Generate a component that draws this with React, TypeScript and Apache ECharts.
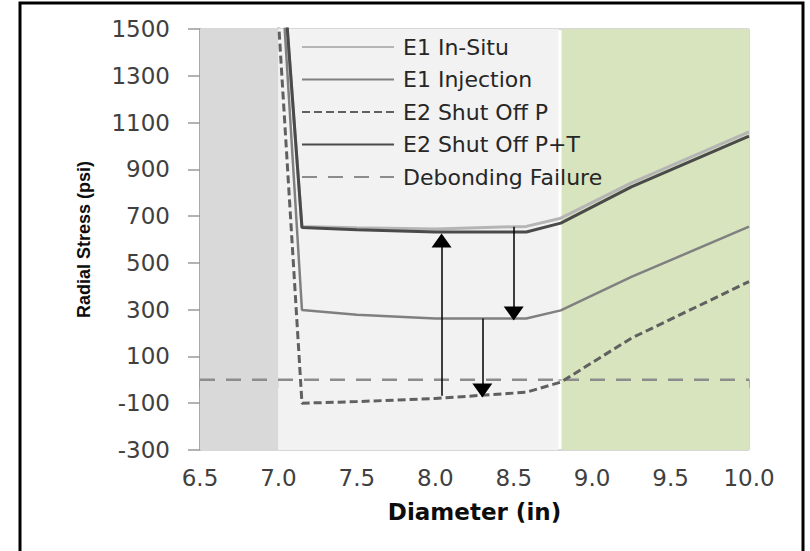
import React, { useEffect, useRef } from "react";
import * as echarts from "echarts";

const diameters = [7.0, 7.15, 7.5, 8.0, 8.58, 8.8, 9.25, 10.0];
const e1InSitu = [2000, 656, 650, 645, 656, 691, 842, 1060];
const e1Injection = [1937, 299, 278, 262, 262, 297, 440, 655];
const e2ShutOffP = [1540, -100, -93, -80, -53, -10, 178, 420];
const e2ShutOffPT = [2019, 651, 642, 632, 632, 670, 825, 1042];
const debondX = [6.5, 10.0];
const debondY = [0, 0];

const seriesNames = ["E1 In-Situ", "E1 Injection", "E2 Shut Off P", "E2 Shut Off P+T", "Debonding Failure"];

// background zones (in diameter units)
const zoneDark = [6.5, 7.0];
const zoneLight = [7.0, 8.785];
const zoneGreen = [8.805, 10.0];

// arrows: x, start value, end value (end = centre of the arrow head)
const arrowX = [8.04, 8.5, 8.3];
const arrowFrom = [-68, 655, 262];
const arrowTo = [596, 284, -46];

const yMin = -300;
const yMax = 1500;
const yStep = 200;
const xMin = 6.5;
const xMax = 10.0;
const xStep = 0.5;

const pairs = (xs: number[], ys: number[]) => xs.map((x, i) => [x, ys[i]]);

export default function App() {
  const ref = useRef<HTMLDivElement>(null);
  useEffect(() => {
    if (!ref.current) return;
    const chart = echarts.init(ref.current, null, { renderer: "svg" });
    const tickFont = { fontFamily: "DejaVu Sans", fontSize: 23, color: "#404040" };
    const axisGray = "#9a9a9a";
    const arrowData = arrowX.map((x, i) => [
      { coord: [x, arrowFrom[i]] },
      { coord: [x, arrowTo[i]] },
    ]);
    chart.setOption({
      animation: false,
      backgroundColor: "#ffffff",
      grid: {
        left: 200,
        top: 29,
        right: 61,
        bottom: 101,
        show: true,
        borderColor: "#b0b0b0",
        borderWidth: 1,
      },
      legend: {
        data: seriesNames,
        orient: "vertical",
        left: 301,
        top: 36,
        padding: 0,
        itemWidth: 92,
        itemHeight: 14,
        itemGap: 10.5,
        itemStyle: { opacity: 0 },
        textStyle: {
          fontFamily: "DejaVu Sans",
          fontSize: 22,
          color: "#262626",
          lineHeight: 22,
          padding: [0, 0, 0, 4],
        },
      },
      xAxis: {
        type: "value",
        min: xMin,
        max: xMax,
        interval: xStep,
        name: "Diameter (in)",
        nameLocation: "middle",
        nameGap: 50,
        nameTextStyle: { fontFamily: "DejaVu Sans", fontWeight: "bold", fontSize: 23, color: "#0d0d0d" },
        axisLine: { show: true, lineStyle: { color: axisGray, width: 1.5 } },
        axisTick: { show: true, length: 8, lineStyle: { color: axisGray, width: 1.5 } },
        axisLabel: { ...tickFont, margin: 16, formatter: (v: number) => v.toFixed(1) },
        splitLine: { show: false },
      },
      yAxis: {
        type: "value",
        min: yMin,
        max: yMax,
        interval: yStep,
        name: "Radial Stress (psi)",
        nameLocation: "middle",
        nameGap: 107,
        nameTextStyle: {
          fontFamily: "Liberation Sans",
          fontWeight: "bold",
          fontSize: 18,
          color: "#0d0d0d",
        },
        axisLine: { show: true, lineStyle: { color: axisGray, width: 1.5 } },
        axisTick: { show: true, length: 12, lineStyle: { color: axisGray, width: 1.5 } },
        axisLabel: { ...tickFont, margin: 30, formatter: (v: number) => String(v) },
        splitLine: { show: false },
      },
      graphic: [
        {
          type: "rect",
          shape: { x: 20, y: 3, width: 783, height: 620 },
          style: { fill: "none", stroke: "#000000", lineWidth: 3 },
          silent: true,
          z: 100,
        },
      ],
      series: [
        {
          type: "line",
          data: [],
          z: 1,
          silent: true,
          markArea: {
            silent: true,
            data: [
              [{ xAxis: zoneDark[0], itemStyle: { color: "#d9d9d9" } }, { xAxis: zoneDark[1] }],
              [{ xAxis: zoneLight[0], itemStyle: { color: "#f2f2f2" } }, { xAxis: zoneLight[1] }],
              [{ xAxis: zoneGreen[0], itemStyle: { color: "#d7e4bd" } }, { xAxis: zoneGreen[1] }],
            ],
          },
        },
        {
          name: "Debonding Failure",
          type: "line",
          data: pairs(debondX, debondY),
          showSymbol: false,
          symbol: "none",
          lineStyle: { color: "#8c8c8c", width: 2.5, type: [15, 11] },
          itemStyle: { color: "#8c8c8c" },
          z: 3,
        },
        {
          name: "E1 In-Situ",
          type: "line",
          data: pairs(diameters, e1InSitu),
          showSymbol: false,
          symbol: "none",
          lineStyle: { color: "#b5b5b5", width: 3 },
          itemStyle: { color: "#b5b5b5" },
          z: 3,
        },
        {
          name: "E1 Injection",
          type: "line",
          data: pairs(diameters, e1Injection),
          showSymbol: false,
          symbol: "none",
          lineStyle: { color: "#808080", width: 2.5 },
          itemStyle: { color: "#808080" },
          z: 3,
        },
        {
          name: "E2 Shut Off P",
          type: "line",
          data: pairs(diameters, e2ShutOffP),
          showSymbol: false,
          symbol: "none",
          lineStyle: { color: "#606060", width: 3, type: [8, 4] },
          itemStyle: { color: "#606060" },
          z: 3,
        },
        {
          name: "E2 Shut Off P+T",
          type: "line",
          data: pairs(diameters, e2ShutOffPT),
          showSymbol: false,
          symbol: "none",
          lineStyle: { color: "#4a4a4a", width: 3 },
          itemStyle: { color: "#4a4a4a" },
          z: 4,
          markLine: {
            silent: true,
            symbol: ["none", "triangle"],
            symbolSize: [20, 14],
            label: { show: false },
            lineStyle: { color: "#000000", width: 1.5, type: "solid" },
            itemStyle: { color: "#000000" },
            emphasis: { disabled: true },
            data: arrowData,
          },
        },
      ],
    });
    return () => chart.dispose();
  }, []);
  return (
    <div
      ref={ref}
      style={{ position: "fixed", left: 0, top: 0, width: 810, height: 551 }}
    />
  );
}
